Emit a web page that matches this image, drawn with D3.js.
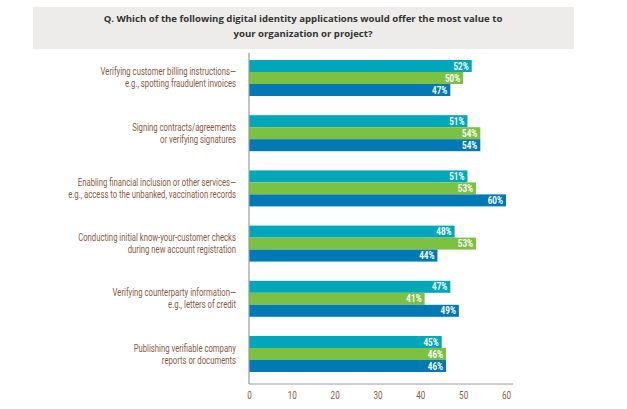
<!DOCTYPE html>
<html><head><meta charset="utf-8">
<script src="https://cdn.jsdelivr.net/npm/d3@7"></script>
<style>
body{margin:0;background:#fff;}
svg{display:block;}
.cond{font-family:Roboto,"Open Sans",sans-serif;}
</style></head>
<body>
<svg id="chart" width="627" height="409"></svg>
<script>
const titleLines = ["Q. Which of the following digital identity applications would offer the most value to", "your organization or project?"];
const categories = [
  ["Verifying customer billing instructions\u2014", "e.g., spotting fraudulent invoices"],
  ["Signing contracts/agreements", "or verifying signatures"],
  ["Enabling financial inclusion or other services\u2014", "e.g., access to the unbanked, vaccination records"],
  ["Conducting initial know-your-customer checks", "during new account registration"],
  ["Verifying counterparty information\u2014", "e.g., letters of credit"],
  ["Publishing verifiable company", "reports or documents"]
];
const seriesNames = ["s1", "s2", "s3"];
const seriesColors = ["#00a6b9", "#7dc143", "#0079b4"];
const series1 = [52, 51, 51, 48, 47, 45];
const series2 = [50, 54, 53, 53, 41, 46];
const series3 = [47, 54, 60, 44, 49, 46];
const xTicks = [0, 10, 20, 30, 40, 50, 60];

const seriesValues = [series1, series2, series3];
const svg = d3.select("#chart");

// title box
svg.append("rect").attr("x", 33).attr("y", 7).attr("width", 541).attr("height", 42).attr("fill", "#edecea");
svg.append("text").attr("x", 303).attr("y", 22).attr("text-anchor", "middle")
  .attr("font-family", "'Open Sans', sans-serif").attr("font-weight", "bold").attr("font-size", 9.6).attr("fill", "#333")
  .selectAll("tspan").data(titleLines).join("tspan")
  .attr("x", 303).attr("dy", (d, i) => i === 0 ? 0 : 14.5).text(d => d);

const x = d3.scaleLinear().domain([0, 60]).range([249, 506]);
const idx = categories.map((d, i) => i);
const y = d3.scaleBand().domain(idx).range([60, 372]).paddingInner(0.348).paddingOuter(0);
const ys = d3.scaleBand().domain(seriesNames).range([0, y.bandwidth()]);

// measure condensing factor from the longest label line
const probe = svg.append("text").attr("class", "cond").attr("font-size", 10)
  .text(categories[2][1]);
const k = 168 / probe.node().getComputedTextLength();
probe.remove();

const groups = svg.append("g").selectAll("g").data(idx).join("g")
  .attr("transform", i => `translate(0,${y(i)})`);

seriesNames.forEach((s, si) => {
  groups.append("rect")
    .attr("x", x(0)).attr("y", ys(s))
    .attr("width", i => x(seriesValues[si][i]) - x(0))
    .attr("height", ys.bandwidth())
    .attr("fill", seriesColors[si]);
  groups.append("text").attr("class", "cond")
    .attr("transform", i => `translate(${x(seriesValues[si][i]) - 3},${ys(s) + ys.bandwidth() / 2 + 3.6}) scale(${k},1)`)
    .attr("text-anchor", "end").attr("font-size", 10.5).attr("font-weight", "bold").attr("fill", "#fff")
    .text(i => seriesValues[si][i] + "%");
});

// category labels
categories[0].forEach((_, j) => {
  groups.append("text").attr("class", "cond")
    .attr("transform", `translate(236,${y.bandwidth() / 2 - 2.5 + j * 12}) scale(${k},1)`)
    .attr("text-anchor", "end").attr("font-size", 10).attr("fill", "#8a5a45")
    .text(i => categories[i][j]);
});

// axes
const axisG = svg.append("g").attr("transform", "translate(0,384)");
const xAxis = d3.axisBottom(x).tickValues(xTicks).tickSize(0).tickPadding(8);
axisG.call(xAxis);
axisG.select(".domain").remove();
axisG.selectAll("text").attr("class", "cond").attr("font-size", 10.5).attr("fill", "#8a5a45")
  .attr("transform", `scale(${k},1)`);
svg.append("line").attr("x1", 249).attr("x2", 513).attr("y1", 384).attr("y2", 384).attr("stroke", "#9a9a9a").attr("stroke-width", 1.2);
svg.append("line").attr("x1", 249).attr("x2", 249).attr("y1", 53).attr("y2", 384).attr("stroke", "#9a9a9a").attr("stroke-width", 1.2);
</script>
</body></html>
